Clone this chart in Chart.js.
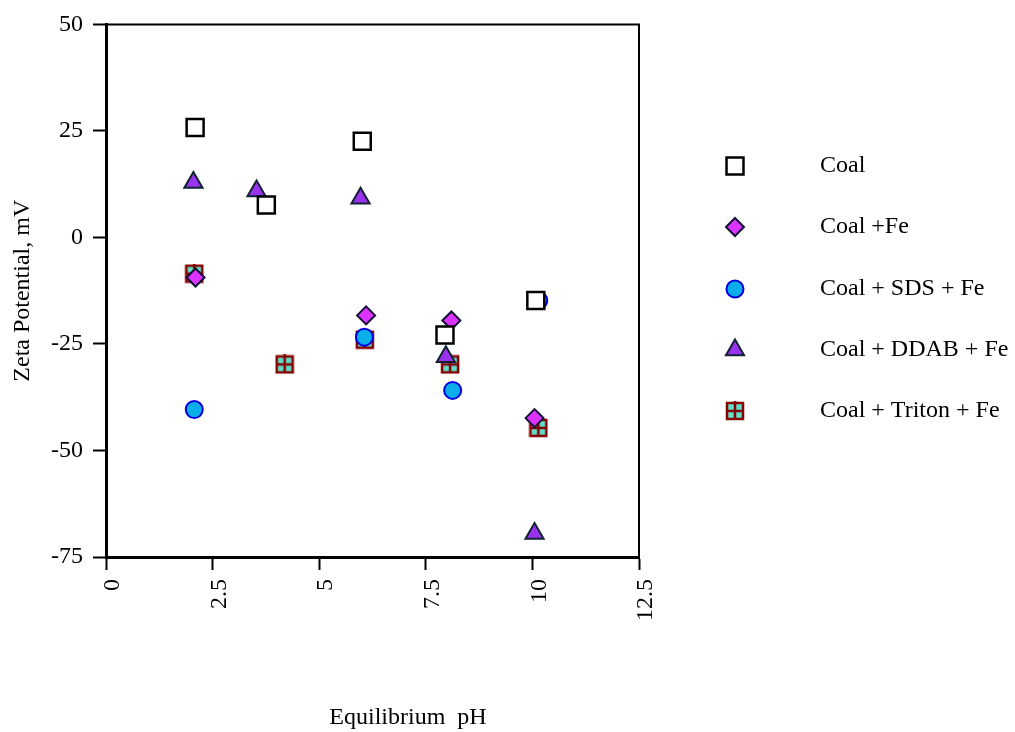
<!DOCTYPE html>
<html>
<head>
<meta charset="utf-8">
<script src="https://cdn.jsdelivr.net/npm/chart.js@4/dist/chart.umd.min.js"></script>
<style>
  html, body { margin: 0; padding: 0; background: #fff; }
  #wrap { width: 1015px; height: 732px; }
</style>
</head>
<body>
<div id="wrap"><canvas id="zetaChart"></canvas></div>
<script>
// series labels
const seriesNames = ['Coal', 'Coal +Fe', 'Coal + SDS + Fe', 'Coal + DDAB + Fe', 'Coal + Triton + Fe'];

// pH / zeta values per series
const coalPH = [2.09, 3.76, 6.01, 7.95, 10.08];
const coalZeta = [25.8, 7.6, 22.6, -22.9, -14.8];

const fePH = [2.10, 6.10, 8.10, 10.05];
const feZeta = [-9.4, -18.3, -19.5, -42.4];

const sdsPH = [2.07, 6.06, 8.13, 10.15];
const sdsZeta = [-40.4, -23.4, -35.9, -14.8];

const ddabPH = [2.05, 3.53, 5.97, 7.97, 10.05];
const ddabZeta = [12.9, 10.9, 9.2, -28.0, -69.5];

const tritonPH = [2.07, 4.19, 6.07, 8.07, 10.14];
const tritonZeta = [-8.5, -29.8, -24.0, -29.8, -44.7];

// axis ticks
const xTicks = [0, 2.5, 5, 7.5, 10, 12.5];
const yTicks = [-75, -50, -25, 0, 25, 50];

const serif = "'Liberation Serif', 'Times New Roman', serif";

// square with a cross for the Triton series
function crossBox() {
    const c = document.createElement('canvas');
    c.width = 20; c.height = 20;
    const g = c.getContext('2d');
    g.fillStyle = '#5ee0c8';
    g.fillRect(1, 1, 18, 18);
    g.strokeStyle = '#850000';
    g.lineWidth = 2.5;
    g.strokeRect(2, 2, 16, 16);
    g.beginPath();
    g.moveTo(10, 0); g.lineTo(10, 19);
    g.moveTo(2, 10); g.lineTo(18, 10);
    g.stroke();
    return c;
}
const tritonMark = crossBox();

function pts(xs, ys) {
    return xs.map((x, i) => ({x: x, y: ys[i]}));
}

const datasets = [
    {label: seriesNames[0], data: pts(coalPH, coalZeta), pointStyle: 'rect', pointRadius: 12,
        backgroundColor: '#ffffff', borderColor: '#000000', borderWidth: 2.5},
    {label: seriesNames[1], data: pts(fePH, feZeta), pointStyle: 'rectRot', pointRadius: 9,
        backgroundColor: '#dd33ff', borderColor: '#111133', borderWidth: 2},
    {label: seriesNames[2], data: pts(sdsPH, sdsZeta), pointStyle: 'circle', pointRadius: 8.5,
        backgroundColor: '#0aaee8', borderColor: '#0000dd', borderWidth: 2},
    {label: seriesNames[3], data: pts(ddabPH, ddabZeta), pointStyle: 'triangle', pointRadius: 10.5,
        backgroundColor: '#9933ee', borderColor: '#112233', borderWidth: 2},
    {label: seriesNames[4], data: pts(tritonPH, tritonZeta), pointStyle: tritonMark, pointRadius: 10,
        backgroundColor: '#5ee0c8', borderColor: '#850000', borderWidth: 2},
];

// top/right frame, x title and legend drawn by hand
const extras = {
    id: 'extras',
    beforeDatasetsDraw(chart) {
        const {ctx, chartArea: a} = chart;
        ctx.save();
        ctx.strokeStyle = '#000';
        ctx.lineWidth = 2;
        ctx.beginPath();
        ctx.moveTo(a.left, a.top);
        ctx.lineTo(a.right, a.top);
        ctx.lineTo(a.right, a.bottom);
        ctx.stroke();
        ctx.restore();
    },
    afterDraw(chart) {
        const ctx = chart.ctx;
        ctx.save();
        ctx.fillStyle = '#000';
        ctx.font = '24px ' + serif;
        ctx.textAlign = 'center';
        ctx.textBaseline = 'middle';
        ctx.fillText('Equilibrium  pH', 408, 718);

        const rows = [166, 227, 289, 350, 411];
        chart.data.datasets.forEach((ds, i) => {
            ctx.fillStyle = ds.backgroundColor;
            ctx.strokeStyle = ds.borderColor;
            ctx.lineWidth = ds.borderWidth;
            Chart.helpers.drawPoint(ctx, {
                pointStyle: ds.pointStyle, radius: ds.pointRadius, rotation: 0,
                borderWidth: ds.borderWidth
            }, 735, rows[i]);
            ctx.fillStyle = '#000';
            ctx.textAlign = 'left';
            ctx.fillText(ds.label, 820, rows[i]);
        });
        ctx.restore();
    }
};

new Chart(document.getElementById('zetaChart'), {
    type: 'scatter',
    data: {datasets: datasets},
    plugins: [extras],
    options: {
        responsive: true,
        maintainAspectRatio: false,
        animation: false,
        layout: {padding: {top: 23, right: 376, left: 0, bottom: 0}},
        plugins: {
            legend: {display: false},
            tooltip: {enabled: false}
        },
        scales: {
            x: {
                type: 'linear',
                min: 0,
                max: 12.5,
                afterBuildTicks: s => { s.ticks = xTicks.map(v => ({value: v})); },
                afterFit: s => { s.height = 175; },
                border: {color: '#000', width: 3},
                grid: {drawOnChartArea: false, color: '#000', tickLength: 13, tickWidth: 2},
                ticks: {
                    color: '#000', font: {family: serif, size: 24},
                    minRotation: 90, maxRotation: 90, padding: 9,
                    labelOffset: 7, autoSkip: false
                }
            },
            y: {
                type: 'linear',
                min: -75,
                max: 50,
                afterBuildTicks: s => { s.ticks = yTicks.map(v => ({value: v})); },
                afterFit: s => { s.width = 106; },
                border: {color: '#000', width: 3},
                grid: {drawOnChartArea: false, color: '#000', tickLength: 13, tickWidth: 2},
                ticks: {color: '#000', font: {family: serif, size: 24}, padding: 10},
                title: {
                    display: true,
                    text: 'Zeta Potential, mV',
                    color: '#000',
                    font: {family: serif, size: 24},
                    padding: {top: 8, bottom: 0}
                }
            }
        }
    }
});
</script>
</body>
</html>
